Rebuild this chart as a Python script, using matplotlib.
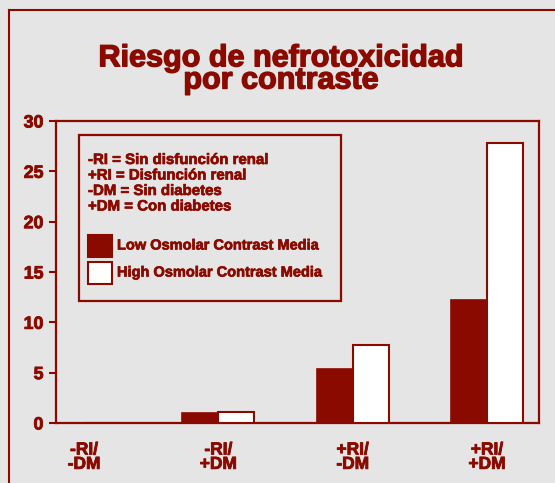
import matplotlib
matplotlib.use("Agg")
import matplotlib.pyplot as plt
import matplotlib.patheffects as pe
import numpy as np
from matplotlib.patches import Rectangle
from matplotlib.lines import Line2D

categories = ["-RI/\n-DM", "-RI/\n+DM", "+RI/\n-DM", "+RI/\n+DM"]
low_osmolar = [0.0, 1.0, 5.4, 12.2]
high_osmolar = [0.0, 1.1, 7.7, 27.8]
series_names = ["Low Osmolar Contrast Media", "High Osmolar Contrast Media"]
yticks = [0, 5, 10, 15, 20, 25, 30]
notes = ["-RI = Sin disfunción renal", "+RI = Disfunción renal",
         "-DM = Sin diabetes", "+DM = Con diabetes"]
title_lines = ["Riesgo de nefrotoxicidad", "por contraste"]

RED = "#8B0A00"
BG = "#E5E5E5"
FONT = "Liberation Sans"

W, H = 555, 483
fig = plt.figure(figsize=(W / 100, H / 100), dpi=100, facecolor=BG)

def fx(px):
    return px / W

def fy(py):
    return 1 - py / H

def heavy(w):
    return [pe.withStroke(linewidth=w, foreground=RED)]

ax = fig.add_axes([fx(56), fy(423), fx(539) - fx(56), fy(121) - fy(423)])
ax.set_facecolor(BG)

x = np.arange(len(categories))
width = 0.268
ax.bar(x - width / 2, low_osmolar, width, color=RED, edgecolor=RED, linewidth=1.2,
       label=series_names[0], zorder=3)
ax.bar(x + width / 2, high_osmolar, width, color="white", edgecolor=RED, linewidth=1.5,
       label=series_names[1], zorder=3)

ax.set_xlim(-0.2084, 3.387)
ax.set_ylim(0, 30)
ax.set_yticks(yticks)
ax.set_xticks(x)
ax.set_xticklabels(categories)
for lab in ax.get_xticklabels():
    lab.set_linespacing(0.95)
ax.tick_params(axis="x", length=0, pad=14, labelsize=12.5, labelcolor=RED)
ax.tick_params(axis="y", length=5, width=1.5, color=RED, pad=4, labelsize=12.8, labelcolor=RED)
for lab in ax.get_xticklabels() + ax.get_yticklabels():
    lab.set_fontfamily(FONT)
    lab.set_fontweight("bold")
    lab.set_path_effects(heavy(0.6))
for s in ax.spines.values():
    s.set_color(RED)
    s.set_linewidth(1.6)

# outer frame (left and top)
fig.add_artist(Line2D([fx(9), fx(9)], [fy(10), 0], transform=fig.transFigure, color=RED, lw=1.5))
fig.add_artist(Line2D([fx(9), 1], [fy(10), fy(10)], transform=fig.transFigure, color=RED, lw=1.5))

# title (va='baseline' aligns the last line's baseline)
fig.text(fx(281), fy(88.5), "\n".join(title_lines), ha="center", va="baseline", color=RED,
         fontsize=22, fontweight="bold", family=FONT, linespacing=0.66,
         multialignment="center", path_effects=heavy(1.0))

# legend box
fig.add_artist(Rectangle((fx(79), fy(301)), fx(341) - fx(79), fy(135) - fy(301),
                         transform=fig.transFigure, facecolor="none", edgecolor=RED, lw=1.6))
for i, t in enumerate(notes):
    fig.text(fx(88), fy(160 + 15.5 * i), t, ha="left", va="center", color=RED,
             fontsize=10.8, fontweight="bold", family=FONT, path_effects=heavy(0.5))
for i, (name, fc) in enumerate(zip(series_names, [RED, "white"])):
    top = 235 + 27 * i
    fig.add_artist(Rectangle((fx(88), fy(top + 22)), fx(112) - fx(88), fy(top) - fy(top + 22),
                             transform=fig.transFigure, facecolor=fc, edgecolor=RED, lw=1.5))
    fig.text(fx(117), fy(top + 10.5), name, ha="left", va="center", color=RED,
             fontsize=10.5, fontweight="bold", family=FONT, path_effects=heavy(0.5))

fig.savefig("out.png", dpi=100, facecolor=BG)
